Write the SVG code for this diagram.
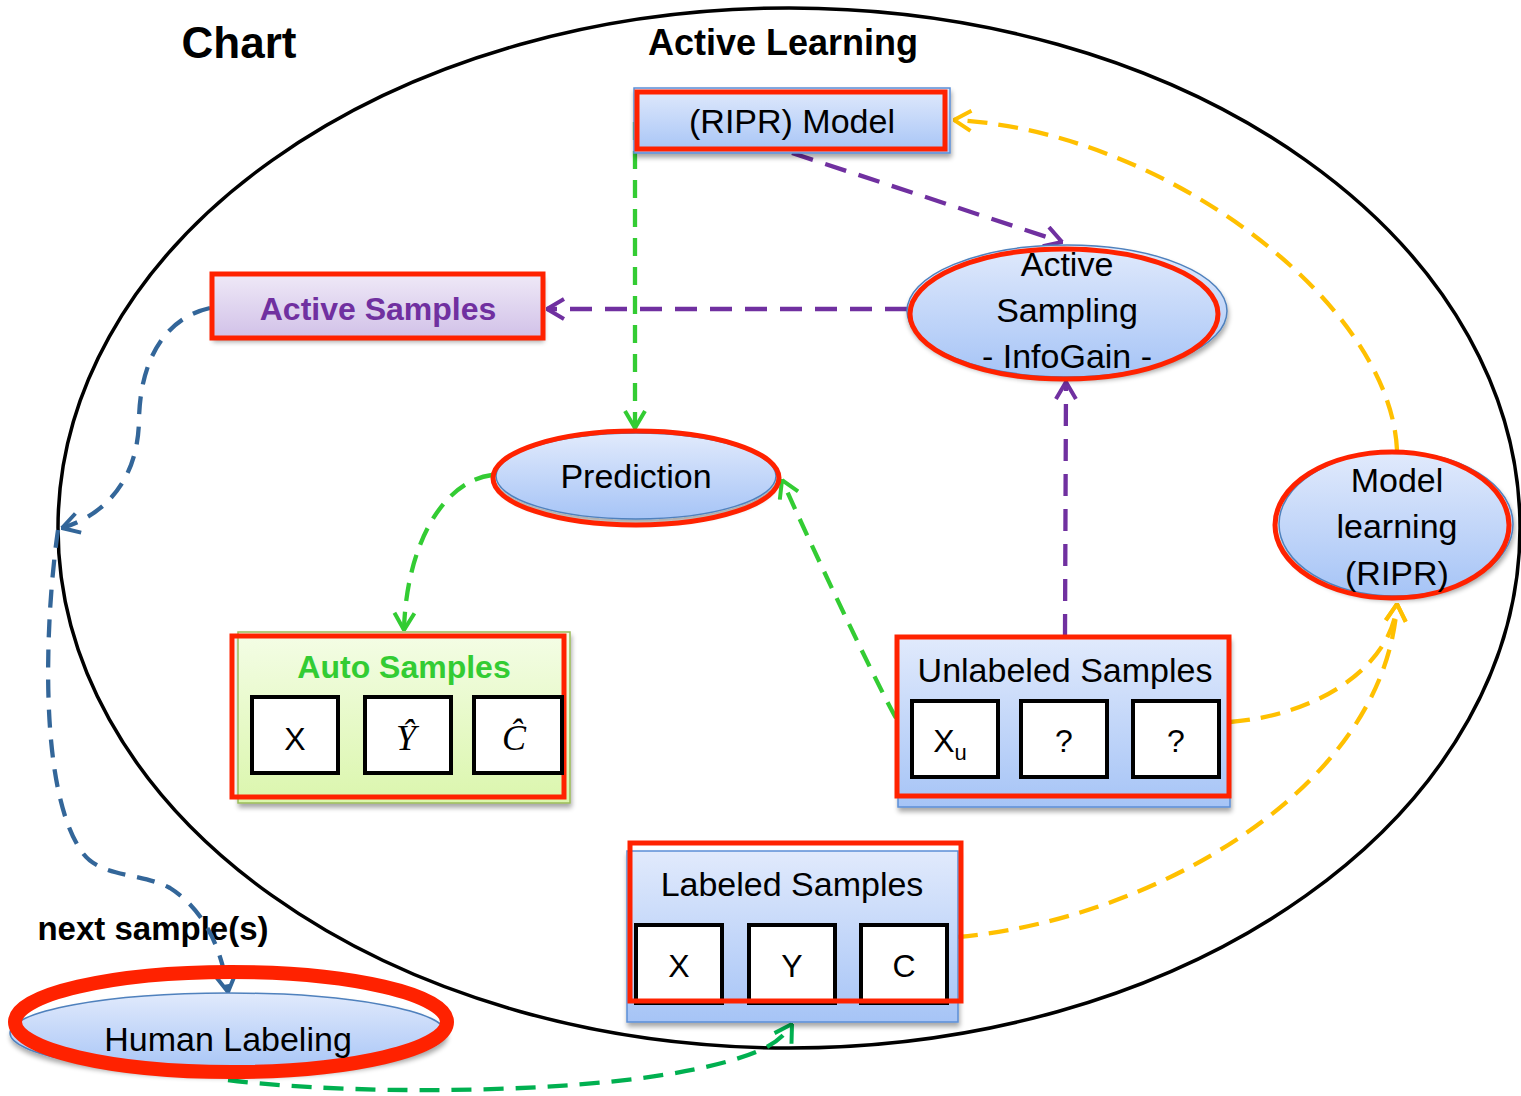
<svg xmlns="http://www.w3.org/2000/svg" width="1521" height="1096" viewBox="0 0 1521 1096">
  <style>
    .t { font-family: "Liberation Sans", Arial, sans-serif; fill: #000; text-anchor: middle; }
    .tb { font-family: "Liberation Sans", Arial, sans-serif; font-weight: bold; text-anchor: middle; }
    .m { font-family: "Liberation Serif", "Times New Roman", serif; font-style: italic; text-anchor: middle; fill: #000; }
    .red { fill: none; stroke: #ff2200; stroke-width: 5; }
    .cell { fill: #fff; stroke: #000; stroke-width: 4; }
    .bluebox { fill: url(#gBlue); stroke: #5b8ed6; stroke-width: 1.5; }
    .c { fill: none; stroke-width: 4.3; }
    .purple { stroke: #7030a0; stroke-dasharray: 22 13; }
    .green { stroke: #33cc33; stroke-dasharray: 18 11; }
    .yellow { stroke: #ffc000; stroke-dasharray: 20 11; }
    .steel { stroke: #336699; stroke-dasharray: 18 12; }
    .dgreen { stroke: #00b050; stroke-dasharray: 20 12; }
  </style>
  <defs>
    <linearGradient id="gBlue" x1="0" y1="0" x2="0" y2="1">
      <stop offset="0" stop-color="#e1eafc"/>
      <stop offset="1" stop-color="#a6c4f6"/>
    </linearGradient>
    <linearGradient id="gPurple" x1="0" y1="0" x2="0" y2="1">
      <stop offset="0" stop-color="#efe9f7"/>
      <stop offset="1" stop-color="#d1c1e8"/>
    </linearGradient>
    <linearGradient id="gGreen" x1="0" y1="0" x2="0" y2="1">
      <stop offset="0" stop-color="#f4fde6"/>
      <stop offset="1" stop-color="#dbf6ad"/>
    </linearGradient>
    <filter id="sh" x="-10%" y="-10%" width="125%" height="135%">
      <feGaussianBlur in="SourceAlpha" stdDeviation="2.5"/>
      <feOffset dx="1" dy="4" result="b"/>
      <feComponentTransfer><feFuncA type="linear" slope="0.35"/></feComponentTransfer>
      <feMerge><feMergeNode/><feMergeNode in="SourceGraphic"/></feMerge>
    </filter>
    <marker id="aPurple" markerUnits="userSpaceOnUse" viewBox="0 0 20 24" refX="19" refY="12" markerWidth="20" markerHeight="24" orient="auto">
      <path d="M2,2 L19,12 L2,22" fill="none" stroke="#7030a0" stroke-width="4"/>
    </marker>
    <marker id="aGreen" markerUnits="userSpaceOnUse" viewBox="0 0 20 24" refX="19" refY="12" markerWidth="20" markerHeight="24" orient="auto">
      <path d="M2,2 L19,12 L2,22" fill="none" stroke="#33cc33" stroke-width="4"/>
    </marker>
    <marker id="aYellow" markerUnits="userSpaceOnUse" viewBox="0 0 20 24" refX="19" refY="12" markerWidth="20" markerHeight="24" orient="auto">
      <path d="M2,2 L19,12 L2,22" fill="none" stroke="#ffc000" stroke-width="4"/>
    </marker>
    <marker id="aSteel" markerUnits="userSpaceOnUse" viewBox="0 0 20 24" refX="19" refY="12" markerWidth="20" markerHeight="24" orient="auto">
      <path d="M2,2 L19,12 L2,22" fill="none" stroke="#336699" stroke-width="4"/>
    </marker>
    <marker id="aDGreen" markerUnits="userSpaceOnUse" viewBox="0 0 20 24" refX="19" refY="12" markerWidth="20" markerHeight="24" orient="auto">
      <path d="M2,2 L19,12 L2,22" fill="none" stroke="#00b050" stroke-width="4"/>
    </marker>
  </defs>

  <rect width="1521" height="1096" fill="#fff"/>

  <!-- active learning boundary -->
  <ellipse cx="789" cy="528" rx="731" ry="520" fill="none" stroke="#000" stroke-width="3.5"/>

  <text class="tb" x="239" y="58" font-size="44" fill="#000">Chart</text>
  <text class="tb" x="783" y="55" font-size="36" fill="#000">Active Learning</text>
  <text class="tb" x="153" y="940" font-size="33" fill="#000">next sample(s)</text>

  <!-- connectors -->
  <g id="connectors">
    <path class="c purple" d="M792,153 L1062,242" marker-end="url(#aPurple)"/>
    <path class="c purple" d="M907,309 L547,309" marker-end="url(#aPurple)"/>
    <path class="c purple" d="M1065,636 L1066,382" marker-end="url(#aPurple)"/>
    <path class="c green" d="M635,122 L635,428" marker-end="url(#aGreen)"/>
    <path class="c green" d="M492,475 C440,482 406,550 404,630" marker-end="url(#aGreen)"/>
    <path class="c green" d="M896,718 C880,690 820,565 782,480" marker-end="url(#aGreen)"/>
    <path class="c yellow" d="M1397,450 C1390,300 1160,130 954,120" marker-end="url(#aYellow)"/>
    <path class="c yellow" d="M1230,722 C1320,715 1392,665 1397,604" marker-end="url(#aYellow)"/>
    <path class="c yellow" d="M958,937 C1150,920 1385,790 1397,604" marker-end="url(#aYellow)"/>
    <path class="c steel" d="M210,308 C165,318 140,360 139,420 C138,480 105,515 62,528" marker-end="url(#aSteel)"/>
    <path class="c steel" d="M58,530 C45,620 38,790 82,852 C100,878 140,872 170,888 C205,910 222,950 228,992" marker-end="url(#aSteel)"/>
    <path class="c dgreen" d="M228,1080 C350,1096 660,1098 765,1048 C780,1040 787,1032 792,1024" marker-end="url(#aDGreen)"/>
  </g>

  <!-- (RIPR) Model -->
  <g id="model">
    <rect x="634" y="88" width="316" height="65" class="bluebox" filter="url(#sh)"/>
    <rect x="637" y="92" width="308" height="57" class="red"/>
    <text class="t" x="792" y="133" font-size="34">(RIPR) Model</text>
  </g>

  <!-- Active Sampling -->
  <g id="active-sampling">
    <ellipse cx="1067" cy="311" rx="160" ry="66" fill="url(#gBlue)" stroke="#4f81bd" stroke-width="1.5" filter="url(#sh)"/>
    <ellipse cx="1064" cy="314" rx="154" ry="65" class="red" stroke-width="6"/>
    <text class="t" x="1067" y="276" font-size="34">Active</text>
    <text class="t" x="1067" y="322" font-size="34">Sampling</text>
    <text class="t" x="1067" y="368" font-size="34">- InfoGain -</text>
  </g>

  <!-- Active Samples -->
  <g id="active-samples">
    <rect x="212" y="274" width="331" height="64" fill="url(#gPurple)" filter="url(#sh)"/>
    <rect x="212" y="274" width="331" height="64" class="red"/>
    <text class="tb" x="378" y="320" font-size="32" fill="#7030a0">Active Samples</text>
  </g>

  <!-- Prediction -->
  <g id="prediction">
    <ellipse cx="636" cy="476" rx="140" ry="43" fill="url(#gBlue)" stroke="#4f81bd" stroke-width="1.5" filter="url(#sh)"/>
    <ellipse cx="636" cy="478" rx="143" ry="47" class="red" stroke-width="5"/>
    <text class="t" x="636" y="488" font-size="34">Prediction</text>
  </g>

  <!-- Model learning -->
  <g id="model-learning">
    <ellipse cx="1396" cy="524" rx="117" ry="72" fill="url(#gBlue)" stroke="#4f81bd" stroke-width="1.5" filter="url(#sh)"/>
    <ellipse cx="1392" cy="525" rx="117" ry="73" class="red"/>
    <text class="t" x="1397" y="492" font-size="34">Model</text>
    <text class="t" x="1397" y="538" font-size="34">learning</text>
    <text class="t" x="1397" y="585" font-size="34">(RIPR)</text>
  </g>

  <!-- Auto Samples -->
  <g id="auto-samples">
    <rect x="238" y="632" width="332" height="171" fill="url(#gGreen)" stroke="#9bbb59" stroke-width="1.5" filter="url(#sh)"/>
    <rect x="232" y="636" width="332" height="161" class="red"/>
    <text class="tb" x="404" y="678" font-size="32" fill="#33cc33">Auto Samples</text>
    <rect x="252" y="697" width="86" height="76" class="cell"/>
    <rect x="365" y="697" width="86" height="76" class="cell"/>
    <rect x="474" y="697" width="88" height="76" class="cell"/>
    <text class="t" x="295" y="750" font-size="32">X</text>
    <text class="m" x="406" y="750" font-size="36">Ŷ</text>
    <text class="m" x="514" y="750" font-size="36">Ĉ</text>
  </g>

  <!-- Unlabeled Samples -->
  <g id="unlabeled-samples">
    <rect x="898" y="637" width="332" height="170" class="bluebox" filter="url(#sh)"/>
    <rect x="897" y="637" width="332" height="159" class="red"/>
    <text class="t" x="1065" y="682" font-size="34">Unlabeled Samples</text>
    <rect x="912" y="701" width="86" height="76" class="cell"/>
    <rect x="1021" y="701" width="86" height="76" class="cell"/>
    <rect x="1133" y="701" width="86" height="76" class="cell"/>
    <text class="t" x="950" y="752" font-size="32">X<tspan font-size="22" dy="8">u</tspan></text>
    <text class="t" x="1064" y="752" font-size="32">?</text>
    <text class="t" x="1176" y="752" font-size="32">?</text>
  </g>

  <!-- Labeled Samples -->
  <g id="labeled-samples">
    <rect x="627" y="851" width="331" height="171" class="bluebox" filter="url(#sh)"/>
    <text class="t" x="792" y="896" font-size="34">Labeled Samples</text>
    <rect x="636" y="925" width="86" height="78" class="cell"/>
    <rect x="749" y="925" width="86" height="78" class="cell"/>
    <rect x="861" y="925" width="86" height="78" class="cell"/>
    <text class="t" x="679" y="977" font-size="32">X</text>
    <text class="t" x="792" y="977" font-size="32">Y</text>
    <text class="t" x="904" y="977" font-size="32">C</text>
    <rect x="630" y="843" width="331" height="158" class="red"/>
  </g>

  <!-- Human Labeling -->
  <g id="human-labeling">
    <ellipse cx="228" cy="1033" rx="218" ry="40" fill="url(#gBlue)" stroke="#4f81bd" stroke-width="1.5" filter="url(#sh)"/>
    <ellipse cx="231" cy="1022" rx="216" ry="50" fill="none" stroke="#ff2200" stroke-width="14"/>
    <text class="t" x="228" y="1051" font-size="34">Human Labeling</text>
  </g>
</svg>
